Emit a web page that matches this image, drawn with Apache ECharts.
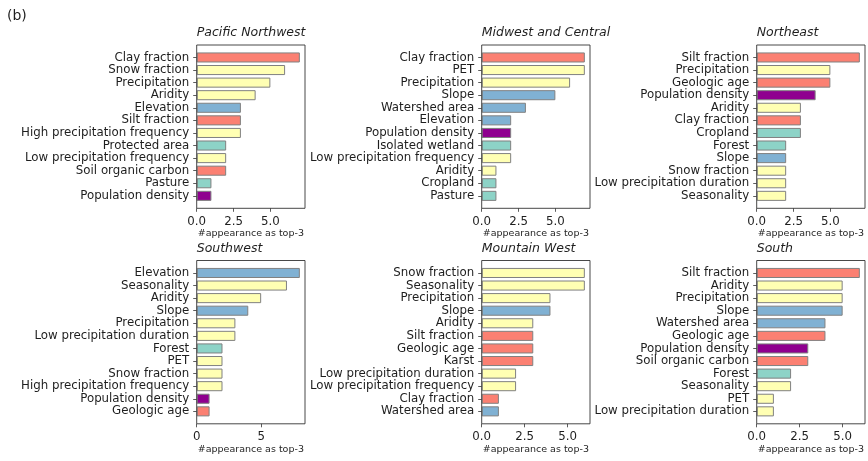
<!DOCTYPE html>
<html>
<head>
<meta charset="utf-8">
<script src="https://cdn.jsdelivr.net/npm/echarts@6/dist/echarts.min.js"></script>
<style>
  html, body { margin: 0; padding: 0; background: #fff; }
  #chart { width: 868px; height: 461px; }
</style>
</head>
<body>
<div id="chart"></div>
<script>
// Top-3 feature appearance counts per region
const pnwNames = ['Clay fraction', 'Snow fraction', 'Precipitation', 'Aridity', 'Elevation', 'Silt fraction',
  'High precipitation frequency', 'Protected area', 'Low precipitation frequency', 'Soil organic carbon', 'Pasture', 'Population density'];
const pnwValues = [7, 6, 5, 4, 3, 3, 3, 2, 2, 2, 1, 1];

const mwcNames = ['Clay fraction', 'PET', 'Precipitation', 'Slope', 'Watershed area', 'Elevation',
  'Population density', 'Isolated wetland', 'Low precipitation frequency', 'Aridity', 'Cropland', 'Pasture'];
const mwcValues = [7, 7, 6, 5, 3, 2, 2, 2, 2, 1, 1, 1];

const neNames = ['Silt fraction', 'Precipitation', 'Geologic age', 'Population density', 'Aridity', 'Clay fraction',
  'Cropland', 'Forest', 'Slope', 'Snow fraction', 'Low precipitation duration', 'Seasonality'];
const neValues = [7, 5, 5, 4, 3, 3, 3, 2, 2, 2, 2, 2];

const swNames = ['Elevation', 'Seasonality', 'Aridity', 'Slope', 'Precipitation', 'Low precipitation duration',
  'Forest', 'PET', 'Snow fraction', 'High precipitation frequency', 'Population density', 'Geologic age'];
const swValues = [8, 7, 5, 4, 3, 3, 2, 2, 2, 2, 1, 1];

const mtwNames = ['Snow fraction', 'Seasonality', 'Precipitation', 'Slope', 'Aridity', 'Silt fraction',
  'Geologic age', 'Karst', 'Low precipitation duration', 'Low precipitation frequency', 'Clay fraction', 'Watershed area'];
const mtwValues = [6, 6, 4, 4, 3, 3, 3, 3, 2, 2, 1, 1];

const sNames = ['Silt fraction', 'Aridity', 'Precipitation', 'Slope', 'Watershed area', 'Geologic age',
  'Population density', 'Soil organic carbon', 'Forest', 'Seasonality', 'PET', 'Low precipitation duration'];
const sValues = [6, 5, 5, 5, 4, 4, 3, 3, 2, 2, 1, 1];

// x-axis tick values per panel
const ticksDefault = [0, 2.5, 5];
const ticksSouthwest = [0, 5];

const panelTitles = ['Pacific Northwest', 'Midwest and Central', 'Northeast', 'Southwest', 'Mountain West', 'South'];
const xLabel = '#appearance as top-3';

// Feature groups -> colours
const climate = ['Snow fraction', 'Precipitation', 'Aridity', 'PET', 'Seasonality', 'High precipitation frequency',
  'Low precipitation frequency', 'Low precipitation duration'];
const soilGeo = ['Clay fraction', 'Silt fraction', 'Soil organic carbon', 'Geologic age', 'Karst'];
const topo = ['Elevation', 'Slope', 'Watershed area'];
const landCover = ['Protected area', 'Pasture', 'Isolated wetland', 'Cropland', 'Forest'];
const human = ['Population density'];

function colorOf(name) {
  if (climate.includes(name)) return '#ffffb3';
  if (soilGeo.includes(name)) return '#fb8072';
  if (topo.includes(name)) return '#80b1d3';
  if (landCover.includes(name)) return '#8dd3c7';
  if (human.includes(name)) return '#8f008f';
  return '#cccccc';
}

const panels = [
  { names: pnwNames, values: pnwValues, ticks: ticksDefault, digits: 1 },
  { names: mwcNames, values: mwcValues, ticks: ticksDefault, digits: 1 },
  { names: neNames, values: neValues, ticks: ticksDefault, digits: 1 },
  { names: swNames, values: swValues, ticks: ticksSouthwest, digits: 0 },
  { names: mtwNames, values: mtwValues, ticks: ticksDefault, digits: 1 },
  { names: sNames, values: sValues, ticks: ticksDefault, digits: 1 }
];

// Layout of the axes boxes
const boxLefts = [196.7, 481.7, 756.7];
const boxTops = [45, 260.5];
const boxW = 108.3;
const boxH = 163.3;
const font = 'DejaVu Sans';
const textColor = '#1e1e1e';

const grids = [], xAxes = [], yAxes = [], series = [], titles = [], graphics = [];

panels.forEach((p, i) => {
  const col = i % 3, row = Math.floor(i / 3);
  const left = boxLefts[col], top = boxTops[row];
  const n = p.names.length;
  // category spacing with 0.4 half-bar + 5% margins on each end
  const span = (n - 1) + 0.8;
  const total = span * 1.1;
  const unit = boxH / total;
  const pad = (total - n) / 2 * unit;

  grids.push({ left: left, top: top + pad, width: boxW, height: n * unit, containLabel: false });

  const xmax = Math.max(...p.values) * 1.05;
  xAxes.push({
    type: 'value', gridIndex: i, min: 0, max: xmax,
    offset: pad,
    splitLine: { show: false },
    axisLine: { show: false },
    axisTick: { show: true, length: 3.5, lineStyle: { color: '#333', width: 0.8 }, customValues: p.ticks },
    axisLabel: {
      customValues: p.ticks, margin: 7.5, fontFamily: font, fontSize: 11.8, color: textColor,
      formatter: v => Number(v).toFixed(p.digits)
    },
    name: xLabel, nameLocation: 'middle', nameGap: 20.5,
    nameTextStyle: { fontFamily: font, fontSize: 9.5, color: textColor }
  });

  yAxes.push({
    type: 'category', gridIndex: i, data: p.names, inverse: true,
    axisLine: { show: false },
    axisTick: { show: true, alignWithLabel: true, length: 3.5, lineStyle: { color: '#333', width: 0.8 } },
    axisLabel: { margin: 7.5, fontFamily: font, fontSize: 11.8, color: textColor, interval: 0 },
    splitLine: { show: false }
  });

  series.push({
    type: 'bar', xAxisIndex: i, yAxisIndex: i, barWidth: '80%',
    data: p.values.map((v, k) => ({
      value: v,
      itemStyle: { color: colorOf(p.names[k]), borderColor: '#808080', borderWidth: 1 }
    })),
    animation: false
  });

  titles.push({
    text: panelTitles[i], left: left, top: top - 18.5, padding: 0,
    textStyle: { fontFamily: font, fontSize: 12.5, fontStyle: 'italic', fontWeight: 'normal', color: textColor }
  });

  graphics.push({
    type: 'rect', silent: true, z: 10,
    shape: { x: left, y: top, width: boxW, height: boxH },
    style: { fill: null, stroke: '#333', lineWidth: 0.9 }
  });
});

graphics.push({
  type: 'text', left: 7, top: 9,
  style: { text: '(b)', font: '14px "DejaVu Sans"', fill: textColor }
});

const chart = echarts.init(document.getElementById('chart'), null, { renderer: 'canvas' });
chart.setOption({
  animation: false,
  backgroundColor: '#fff',
  title: titles,
  grid: grids,
  xAxis: xAxes,
  yAxis: yAxes,
  series: series,
  graphic: graphics
});
</script>
</body>
</html>
